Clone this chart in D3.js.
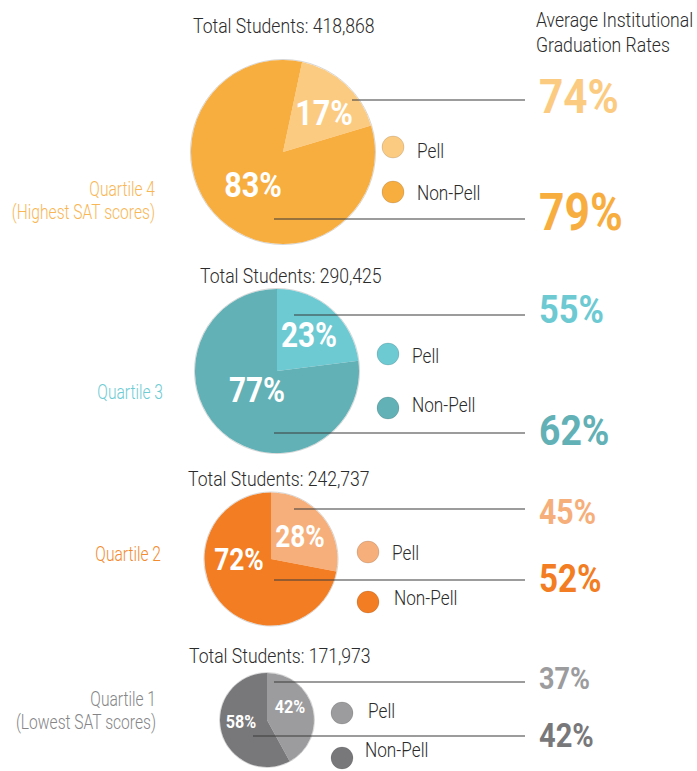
<!DOCTYPE html>
<html>
<head>
<meta charset="utf-8">
<script src="https://cdn.jsdelivr.net/npm/d3@7"></script>
<style>
	body { margin: 0; background: #fff; }
	svg { display: block; font-family: Roboto, "Open Sans", sans-serif; }
</style>
</head>
<body>
<script>
//	data
var quartiles		= ["Quartile 4", "Quartile 3", "Quartile 2", "Quartile 1"];
var subtitles		= ["(Highest SAT scores)", "", "", "(Lowest SAT scores)"];
var totals			= [418868, 290425, 242737, 171973];
var groups			= ["Pell", "Non-Pell"];
var pellShare		= [17, 23, 28, 42];
var nonPellShare	= [83, 77, 72, 58];
var pellGrad		= [74, 55, 45, 37];
var nonPellGrad		= [79, 62, 52, 42];

//	colours per quartile
var pellColors		= ["#fccb82", "#6dcad3", "#f6af7a", "#9c9c9e"];
var nonPellColors	= ["#f8ad3f", "#62b1b6", "#f37d22", "#78787b"];
var labelColors		= ["#f9b654", "#6dcbd3", "#f38a2e", "#858587"];

//	hand placed layout of each block (pixels)
var layout = [
	{cx: 283, cy: 152, start: 12, titleX: 193, titleY: 33, qx: 155, qy: [196, 219],
	 lines: [[352, 100], [274, 219]], rateY: [113, 230], legX: 393, legY: [147, 192], legTY: [158, 200], legTX: [417, 417],
	 inPell: [324, 125], inNon: [253, 197], inSize: 36},
	{cx: 277, cy: 371, start: 0, titleX: 200, titleY: 283, qx: 163, qy: [399],
	 lines: [[294, 315], [274, 433]], rateY: [323, 445], legX: 388, legY: [354, 408], legTY: [363, 412], legTX: [412, 412],
	 inPell: [309, 347], inNon: [257, 402], inSize: 35},
	{cx: 271, cy: 559, start: 0, titleX: 188, titleY: 486, qx: 161, qy: [561],
	 lines: [[294, 509], [274, 580]], rateY: [524, 592], legX: 368, legY: [552, 602], legTY: [560, 605], legTX: [392, 394],
	 inPell: [300, 547], inNon: [239, 570], inSize: 31},
	{cx: 267, cy: 720, start: 0, titleX: 189, titleY: 663, qx: 156, qy: [706, 729],
	 lines: [[274, 682], [253, 736]], rateY: [689, 747], legX: 342, legY: [713, 758], legTY: [718, 757], legTX: [368, 365],
	 inPell: [290, 713], inNon: [241, 728], inSize: 19}
];

var W = 697, H = 771;
var lineEnd = 525, rateX = 539;
var dark = "#2b2b2b";

var svg = d3.select("body").append("svg").attr("width", W).attr("height", H);

//	pie radius from the total (the original sizes are not strictly proportional)
var rScale = d3.scaleLinear().domain(d3.sort(totals)).range([47, 66.5, 82, 92]);
//	font size of the graduation rate numbers
var rateSize = d3.scaleLinear().domain([d3.min(pellGrad), d3.max(nonPellGrad)]).range([31, 51]);
var fmt = d3.format(",");

//	condensed text: there is no condensed face, so squeeze horizontally
function label(g, x, y, str, size, sx, opts) {
	opts = opts || {};
	return g.append("text")
		.attr("transform", "translate(" + x + "," + y + ") scale(" + sx + ",1)")
		.attr("text-anchor", opts.anchor || "start")
		.attr("font-size", size)
		.attr("font-weight", opts.weight || 300)
		.attr("fill", opts.fill || dark)
		.text(str);
}

//	header on the right
label(svg, 536, 27, "Average Institutional", 21, 0.84);
label(svg, 536, 52, "Graduation Rates", 21, 0.84);

quartiles.forEach(function(q, i) {
	var L = layout[i];
	var g = svg.append("g").attr("class", "quartile");
	var r = rScale(totals[i]);
	var a0 = L.start * Math.PI / 180;

	var pie = d3.pie().sort(null).value(function(d){ return d.value; })
		.startAngle(a0).endAngle(a0 + 2 * Math.PI);
	var arc = d3.arc().innerRadius(0).outerRadius(r);
	var slices = pie([
		{key: groups[0], value: pellShare[i], color: pellColors[i]},
		{key: groups[1], value: nonPellShare[i], color: nonPellColors[i]}
	]);

	var pg = g.append("g").attr("transform", "translate(" + L.cx + "," + L.cy + ")");
	pg.append("circle").attr("r", r + 0.5).attr("fill", "none").attr("stroke", "#d6d6d6").attr("stroke-width", 1);
	pg.selectAll("path").data(slices).enter().append("path")
		.attr("d", arc)
		.attr("fill", function(d){ return d.data.color; });

	//	title above the pie
	label(g, L.titleX, L.titleY, "Total Students: " + fmt(totals[i]), 20, 0.88);

	//	quartile name on the left
	label(g, L.qx, L.qy[0], q, 20, 0.78, {anchor: "end", fill: labelColors[i]});
	if(subtitles[i]) {
		label(g, L.qx, L.qy[1], subtitles[i], 20, 0.78, {anchor: "end", fill: labelColors[i]});
	}

	//	share labels inside the pie
	label(g, L.inPell[0], L.inPell[1], pellShare[i] + "%", L.inSize, 0.85, {anchor: "middle", weight: 700, fill: "#fff"});
	label(g, L.inNon[0], L.inNon[1], nonPellShare[i] + "%", L.inSize, 0.85, {anchor: "middle", weight: 700, fill: "#fff"});

	//	leader lines to the rates
	L.lines.forEach(function(p) {
		g.append("line")
			.attr("x1", p[0]).attr("y1", p[1])
			.attr("x2", lineEnd).attr("y2", p[1])
			.attr("stroke", "#3a3a3a").attr("stroke-width", 1.2);
	});

	//	graduation rates
	var rates = [pellGrad[i], nonPellGrad[i]];
	var rateColors = [pellColors[i], nonPellColors[i]];
	rates.forEach(function(v, k) {
		label(g, rateX, L.rateY[k], v + "%", rateSize(v), 0.87, {weight: 700, fill: rateColors[k]});
	});

	//	legend
	groups.forEach(function(name, k) {
		g.append("circle")
			.attr("cx", L.legX).attr("cy", L.legY[k]).attr("r", 11)
			.attr("fill", rateColors[k])
			.attr("stroke", "rgba(0,0,0,0.12)").attr("stroke-width", 1);
		label(g, L.legTX[k], L.legTY[k], name, 21, 0.82);
	});
});
</script>
</body>
</html>
